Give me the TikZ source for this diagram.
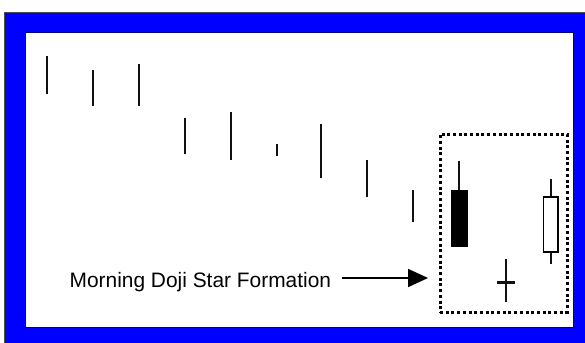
\documentclass[tikz,border=0pt]{standalone}
\usepackage{fontspec}
\setmainfont{Liberation Sans}
\usetikzlibrary{arrows.meta}
\definecolor{frameblue}{HTML}{0000FF}
\definecolor{wickcol}{HTML}{111111}
\tikzset{
  wick/.style={draw=wickcol, line width=2.2pt},
  blackbody/.style={fill=black, draw=black, line width=0.8pt},
  whitebody/.style={fill=white, draw=black, line width=1.8pt},
  dotbox/.style={draw=black, line width=3pt, dash pattern=on 3pt off 2.7pt},
  lbltext/.style={inner sep=0pt, font=\fontsize{20.9}{25}\selectfont},
  pointer/.style={draw=black, line width=1.8pt, -{Triangle[length=20pt,width=18pt]}}
}
\begin{document}
\begin{tikzpicture}[x=1pt,y=-1pt]
\useasboundingbox (0,0) rectangle (585,342);
\fill[white] (0,0) rectangle (585,342);
% blue frame
\draw[fill=frameblue, draw=black!70, line width=1pt] (4.5,12.5) rectangle (586,343);
\draw[fill=white, draw=black!50!frameblue, line width=0.8pt] (25,32) rectangle (573,327);
% descending single-line candles
\draw[wick] (47,56) -- (47,94);
\draw[wick] (93,70) -- (93,106);
\draw[wick] (139,64) -- (139,106);
\draw[wick] (185,118) -- (185,154);
\draw[wick] (231,112) -- (231,160);
\draw[wick, line width=2.8pt] (277,144) -- (277,156);
\draw[wick] (321,124) -- (321,178);
\draw[wick] (367,160) -- (367,197);
\draw[wick] (413,190) -- (413,222);
% formation box
\node[dotbox, minimum width=127pt, minimum height=178pt, inner sep=0pt] (formbox) at (503.5,223) {};
% black candle
\draw[wick] (459,161) -- (459,190);
\draw[blackbody] (451,190) rectangle (467,246);
% doji
\draw[wick] (506,259) -- (506,302);
\draw[wick, line width=3pt] (497,282) -- (515,282);
% white candle
\draw[wick] (551,179) -- (551,197);
\draw[wick] (551,252) -- (551,264);
\draw[whitebody] (543.5,197) rectangle (558,252);
% label and arrow
\node[lbltext, anchor=base west] (lbl) at (69.5,287) {Morning Doji Star Formation};
\coordinate (astart) at (342,278);
\coordinate (atip) at (428,278);
\draw[pointer] (astart) -- (atip);
\end{tikzpicture}
\end{document}
